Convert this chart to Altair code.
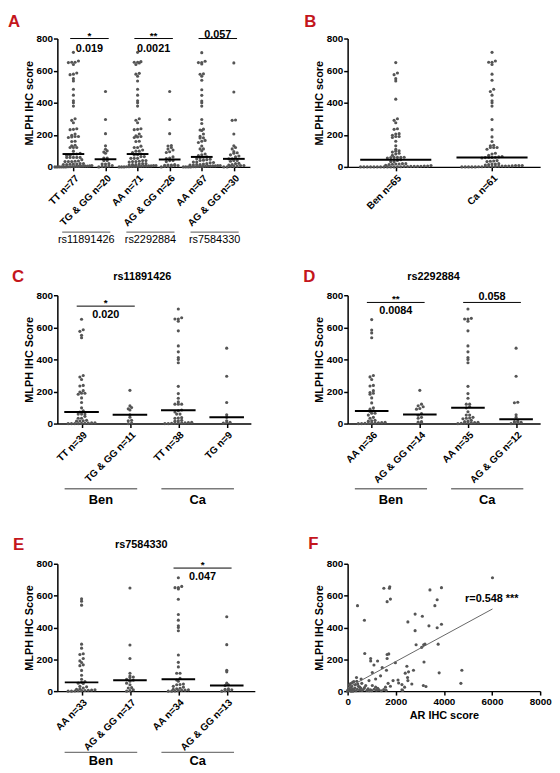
import altair as alt
import pandas as pd
import numpy as np

FONT = "Liberation Sans"
DOT = "#555555"
RED = "#c4161c"

# ---------------- values ----------------
# Panel C (rs11891426), benign (Ben) and cancer (Ca) tissue
c_ben_tt = [650, 585, 575, 550, 535, 300, 290, 275, 238, 234, 205, 197, 189, 189, 183, 160, 131, 98, 80,
            72, 59, 59, 59, 45, 33, 33, 20, 18, 16, 15, 5, 4, 3, 2, 1, 0, 0, 0, 0]
c_ben_tg = [207, 110, 100, 92, 85, 55, 40, 20, 18, 3, 0]
c_ca_tt = [714, 660, 652, 652, 638, 578, 484, 447, 412, 400, 379, 232, 187, 158, 135, 121, 121, 121, 85,
           80, 72, 59, 59, 37, 35, 33, 20, 18, 15, 8, 6, 5, 4, 3, 2, 1, 0, 0]
c_ca_tg = [470, 295, 131, 55, 39, 18, 8, 5, 3]
# Panel D (rs2292884)
d_ben_aa = [648, 583, 565, 535, 300, 291, 275, 238, 234, 205, 193, 189, 183, 160, 129, 98, 90, 80,
            76, 64, 64, 53, 39, 33, 20, 18, 15, 8, 6, 5, 4, 3, 2, 1, 0, 0]
d_ben_ag = [207, 121, 111, 105, 94, 90, 62, 52, 39, 33, 12, 10, 8, 3]
d_ca_aa = [714, 656, 652, 652, 638, 578, 484, 447, 412, 400, 379, 232, 187, 158, 121, 121, 105, 98,
           74, 53, 53, 39, 35, 33, 30, 20, 15, 12, 8, 6, 5, 4, 3, 1, 0]
d_ca_ag = [470, 295, 133, 130, 55, 40, 15, 12, 8, 5, 3, 0]
# Panel E (rs7584330)
e_ben_aa = [580, 565, 540, 295, 270, 235, 230, 205, 190, 180, 165, 160, 130, 100, 75, 60, 55,
            50, 48, 30, 27, 20, 15, 12, 8, 6, 5, 4, 3, 2, 1, 0, 0]
e_ben_ag = [648, 290, 205, 112, 95, 88, 85, 75, 68, 62, 50, 40, 22, 20, 8, 3, 0]
e_ca_aa = [712, 658, 650, 650, 642, 577, 481, 446, 410, 400, 379, 227, 181, 152, 112, 112, 80,
           70, 62, 45, 42, 40, 30, 25, 18, 15, 12, 8, 6, 5, 3, 1, 0, 0]
e_ca_ag = [467, 292, 131, 121, 50, 40, 35, 15, 12, 8, 5, 3, 0]
# Panel B: samples without genotype, added to the genotyped ones
b_ben_extra = [422, 60, 58, 10, 8, 5, 3, 2, 1, 0, 0, 0, 0, 0, 0]
b_ca_extra = [540, 110, 65, 62, 60, 58, 12, 8, 5, 3, 1, 0, 0, 0]
# Panel F: AR IHC score vs MLPH IHC score
f_ar = [6019, 3420, 3899, 1505, 1751, 1737, 1778, 1641, 410, 3720, 3625, 2804, 3105, 698, 2503,
        3379, 3720, 3899, 2804, 711, 957, 957, 1245, 1094, 1641, 1710, 1641, 1984, 2845, 3160,
        3214, 3762, 3078, 3173, 1026, 1436, 1614, 2462, 2736, 2394, 2531, 3803, 4747, 4706, 2490,
        2503, 2093, 1888, 1368, 1163, 889, 561, 369, 205, 3146, 3255, 2120, 2257, 1682, 1778,
        1573, 2667, 2367, 2257, 2285, 1026, 1163, 752, 588, 506,
        0, 50, 100, 150, 200, 250, 300, 350, 400, 450, 500, 550, 600, 650, 700, 800, 850, 900,
        950, 1000, 1100, 1200, 1250, 60, 120, 180, 80, 30, 10, 140, 220, 320, 420, 380, 120, 260,
        1300, 1400, 1500, 1600]
f_mlph = [712, 636, 650, 646, 656, 646, 578, 562, 537, 574, 537, 484, 470, 445, 435,
          410, 398, 420, 380, 236, 205, 189, 189, 164, 230, 234, 205, 178, 291, 291,
          295, 295, 275, 183, 117, 148, 131, 156, 131, 113, 121, 115, 131, 49, 86,
          66, 70, 66, 96, 76, 66, 76, 86, 55, 35, 29, 51, 41, 49, 31,
          25, 45, 25, 8, 4, 35, 25, 35, 49, 25,
          0, 5, 10, 3, 15, 8, 20, 2, 12, 30, 6, 18, 4, 10, 22, 5, 14, 2,
          8, 3, 12, 6, 18, 20, 25, 32, 40, 12, 5, 0, 0, 40, 45, 62, 48, 60,
          8, 2, 10, 5]

# ---------------- labels and annotations ----------------
a_labels = ["TT n=77", "TG & GG n=20", "AA n=71", "AG & GG n=26", "AA n=67", "AG & GG n=30"]
a_snps = ["rs11891426", "rs2292884", "rs7584330"]
b_labels = ["Ben n=65", "Ca n=61"]
c_labels = ["TT n=39", "TG & GG n=11", "TT n=38", "TG n=9"]
d_labels = ["AA n=36", "AG & GG n=14", "AA n=35", "AG & GG n=12"]
e_labels = ["AA n=33", "AG & GG n=17", "AA n=34", "AG & GG n=13"]
tissues = ["Ben", "Ca"]
# (first group, last group, bracket height, stars, p value, p value height)
a_sig = [(0, 1, 800, "*", "0.019", 737), (2, 3, 800, "**", "0.0021", 737), (4, 5, 800, "", "0.057", 823)]
c_sig = [(0, 1, 732, "*", "0.020", 675)]
d_sig = [(0, 1, 755, "**", "0.0084", 699), (2, 3, 755, "", "0.058", 790)]
e_sig = [(2, 3, 773, "*", "0.047", 717)]
f_r_text = "r=0.548 ***"
f_r_pos = (4880, 578)


def swarm_offsets(vals, band_px, dot_px=3.4, bin_units=20, max_frac=1.15):
    bins = {}
    for i, v in enumerate(vals):
        bins.setdefault(int(np.floor((v + bin_units / 2) / bin_units)), []).append(i)
    offs = [0.0] * len(vals)
    for idxs in bins.values():
        n = len(idxs)
        step = dot_px
        if n > 1 and (n - 1) * dot_px > max_frac * band_px:
            step = max_frac * band_px / (n - 1)
        idxs = sorted(idxs, key=lambda i: vals[i])
        for j, i in enumerate(idxs):
            offs[i] = (j - (n - 1) / 2) * step / band_px
    return offs


def text_layer(text, x, y, size, weight="bold", color="black", align="center", baseline="middle"):
    return alt.Chart(pd.DataFrame({"t": [text]})).mark_text(
        font=FONT, fontSize=size, fontWeight=weight, color=color, align=align, baseline=baseline
    ).encode(x=alt.value(x), y=alt.value(y), text="t:N")


def dot_panel(groups, labels, width, height, xmax, ytitle, med_size, sig, unders, under_y, under_ty,
              under_size, under_weight, letter, letter_pos, title=None, title_pos=None, yrange=None):
    n = len(groups)
    band = width / xmax
    recs = []
    for gi, vals in enumerate(groups):
        for v, o in zip(vals, swarm_offsets(vals, band)):
            recs.append({"c": gi + 0.5, "x": gi + 0.5 + o, "v": v})
    df = pd.DataFrame(recs)
    xs = alt.Scale(domain=[0, xmax], nice=False, zero=False)
    if yrange:
        ys = alt.Scale(domain=[0, 800], nice=False, range=yrange)
    else:
        ys = alt.Scale(domain=[0, 800], nice=False)
    expr = "[" + ",".join("'" + l + "'" for l in labels) + "][floor(datum.value)]"
    xaxis = alt.Axis(values=[i + 0.5 for i in range(n)], labelExpr=expr, labelAngle=-45, title=None,
                     labelOverlap=False, labelFlush=False, labelPadding=2)
    yaxis = alt.Axis(values=[0, 200, 400, 600, 800], title=ytitle, labelOverlap=False, labelFlush=False)

    def X(f):
        return alt.X(f, scale=xs, axis=xaxis)

    def Y(f):
        return alt.Y(f, scale=ys, axis=yaxis)

    layers = [
        alt.Chart(df).mark_circle(size=10, color=DOT, opacity=1).encode(x=X("x:Q"), y=Y("v:Q")),
        alt.Chart(df).mark_tick(orient="horizontal", size=med_size, thickness=2, color="black").encode(
            x=X("c:Q"), y=Y("median(v):Q")),
    ]
    if sig:
        br = pd.DataFrame([{"x1": a + 0.4, "x2": b + 0.6, "y": yb} for a, b, yb, s, p, yp in sig])
        st = pd.DataFrame([{"x": (a + b + 1) / 2, "y": yb, "t": s} for a, b, yb, s, p, yp in sig if s])
        pv = pd.DataFrame([{"x": (a + b + 1) / 2, "y": yp, "t": p} for a, b, yb, s, p, yp in sig])
        layers.append(alt.Chart(br).mark_rule(color="black", strokeWidth=1).encode(
            x=X("x1:Q"), x2="x2:Q", y=Y("y:Q")))
        if len(st):
            layers.append(alt.Chart(st).mark_text(font=FONT, fontSize=10, fontWeight="bold",
                                                  baseline="alphabetic").encode(
                x=X("x:Q"), y=Y("y:Q"), text="t:N"))
        layers.append(alt.Chart(pv).mark_text(font=FONT, fontSize=11, fontWeight="bold",
                                              baseline="middle").encode(
            x=X("x:Q"), y=Y("y:Q"), text="t:N"))
    if unders:
        ud = pd.DataFrame([{"x1": a + 0.15, "x2": b + 0.65, "xm": (a + b + 0.8) / 2, "t": t}
                           for a, b, t in unders])
        layers.append(alt.Chart(ud).mark_rule(color="#7a7a7a", strokeWidth=1.3).encode(
            x=X("x1:Q"), x2="x2:Q", y=alt.value(under_y)))
        layers.append(alt.Chart(ud).mark_text(font=FONT, fontSize=under_size, fontWeight=under_weight,
                                              baseline="middle").encode(
            x=X("xm:Q"), y=alt.value(under_ty), text="t:N"))
    layers.append(text_layer(letter, letter_pos[0], letter_pos[1], 17, color=RED, align="left", baseline="top"))
    if title:
        layers.append(text_layer(title, title_pos[0], title_pos[1], 11))
    return alt.layer(*layers).properties(width=width, height=height)


panel_a = dot_panel([c_ben_tt + c_ca_tt, c_ben_tg + c_ca_tg, d_ben_aa + d_ca_aa, d_ben_ag + d_ca_ag,
                     e_ben_aa + e_ca_aa, e_ben_ag + e_ca_ag],
                    a_labels, 195, 130, 6, "MLPH IHC score", 22, a_sig,
                    [(0, 1, a_snps[0]), (2, 3, a_snps[1]), (4, 5, a_snps[2])], 196, 204, 11, "normal",
                    "A", (-50, -25))
panel_b = dot_panel([c_ben_tt + c_ben_tg + b_ben_extra, c_ca_tt + c_ca_tg + b_ca_extra],
                    b_labels, 195, 130, 2, "MLPH IHC score", 72, [], [], 0, 0, 11, "normal",
                    "B", (-44, -25))
panel_c = dot_panel([c_ben_tt, c_ben_tg, c_ca_tt, c_ca_tg], c_labels, 196, 130, 4, "MLPH IHC Score", 35,
                    c_sig, [(0, 1, tissues[0]), (2, 3, tissues[1])], 196, 207, 13, "bold",
                    "C", (-46, -26), "rs11891426", (86, -18))
panel_d = dot_panel([d_ben_aa, d_ben_ag, d_ca_aa, d_ca_ag], d_labels, 195, 130, 4, "MLPH IHC Score", 34,
                    d_sig, [(0, 1, tissues[0]), (2, 3, tissues[1])], 196, 207, 13, "bold",
                    "D", (-45, -26), "rs2292884", (87, -18))
panel_e = dot_panel([e_ben_aa, e_ben_ag, e_ca_aa, e_ca_ag], e_labels, 200, 141, 4.08, "MLPH IHC Score", 34,
                    e_sig, [(0, 1, tissues[0]), (2, 3, tissues[1])], 203, 212, 13, "bold",
                    "E", (-45, -15), "rs7584330", (85, -7), yrange=[141, 12])

# ---------------- panel F ----------------
fdf = pd.DataFrame({"ar": f_ar, "mlph": f_mlph})
fx = alt.Scale(domain=[0, 8000], nice=False)
fy = alt.Scale(domain=[0, 800], nice=False, range=[141, 12])
fxaxis = alt.Axis(values=[0, 2000, 4000, 6000, 8000], title="AR IHC score", format="d",
                  labelFlush=False, labelOverlap=False, labelPadding=2, titlePadding=3)
fyaxis = alt.Axis(values=[0, 200, 400, 600, 800], title="MLPH IHC Score",
                  labelFlush=False, labelOverlap=False)
f_pts = alt.Chart(fdf).mark_circle(size=10, color=DOT, opacity=1).encode(
    x=alt.X("ar:Q", scale=fx, axis=fxaxis), y=alt.Y("mlph:Q", scale=fy, axis=fyaxis))
f_fit = alt.Chart(fdf).transform_regression("ar", "mlph").mark_line(color="#666666", strokeWidth=1).encode(
    x=alt.X("ar:Q", scale=fx, axis=fxaxis), y=alt.Y("mlph:Q", scale=fy, axis=fyaxis))
f_txt = alt.Chart(pd.DataFrame({"ar": [f_r_pos[0]], "mlph": [f_r_pos[1]], "t": [f_r_text]})).mark_text(
    font=FONT, fontSize=11, fontWeight="bold", align="left", baseline="middle").encode(
    x=alt.X("ar:Q", scale=fx, axis=fxaxis), y=alt.Y("mlph:Q", scale=fy, axis=fyaxis), text="t:N")
panel_f = alt.layer(f_pts, f_fit, f_txt, text_layer("F", -40, -16, 17, color=RED, align="left", baseline="top")
                    ).properties(width=195, height=141)

chart = alt.concat(panel_a, panel_b, panel_c, panel_d, panel_e, panel_f, columns=2,
                   spacing={"row": 130, "column": 94}, bounds="flush", align="each"
                   ).properties(padding=0).configure_view(stroke=None).configure_axis(
    labelFont=FONT, labelFontWeight="bold", labelFontSize=10, labelColor="black",
    titleFont=FONT, titleFontWeight="bold", titleFontSize=11, titleColor="black",
    domainColor="black", domainWidth=1.5, tickColor="black", tickWidth=1.5, tickSize=4,
    grid=False, labelPadding=1
).configure_axisY(titlePadding=2)

chart.save("out.html", embed_options={"renderer": "svg", "actions": False})
